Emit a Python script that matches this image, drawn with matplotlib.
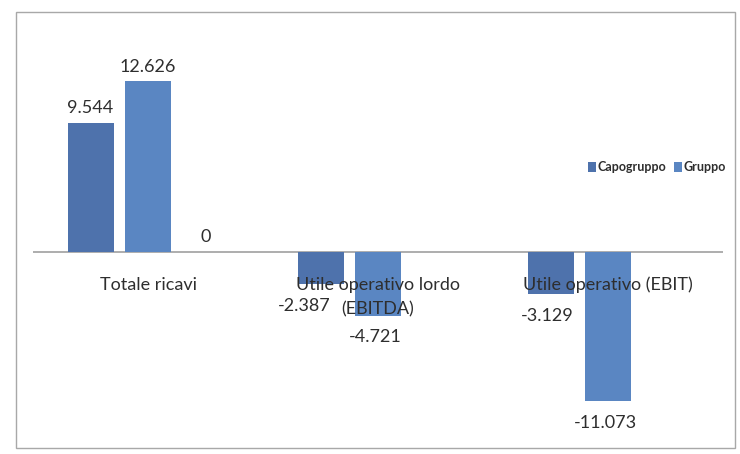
import matplotlib
matplotlib.use("Agg")
import matplotlib.pyplot as plt
from matplotlib.patches import Rectangle
import numpy as np

# Dati (migliaia di euro)
categorie = ["Totale ricavi", "Utile operativo lordo\n(EBITDA)", "Utile operativo (EBIT)"]
capogruppo = [9.544, -2.387, -3.129]
gruppo = [12.626, -4.721, -11.073]
terza_serie = [0, None, None]
serie_nomi = ["Capogruppo", "Gruppo"]

col_capo = "#4E72AC"
col_gruppo = "#5A86C2"
col_testo = "#2E2E2E"

plt.rcParams["font.family"] = ["Lato", "DejaVu Sans"]

fig = plt.figure(figsize=(7.4, 4.54), dpi=100)
fig.patch.set_facecolor("white")

# riquadro esterno del grafico
fig.patches.append(Rectangle((16 / 740, 6 / 454), 719 / 740, 436 / 454,
                             transform=fig.transFigure, fill=False,
                             edgecolor="#A8A8A8", linewidth=1.0))

ax = fig.add_axes([33 / 740, 24 / 454, 690 / 740, 390 / 454])
x = np.arange(len(categorie))
w = 0.2
off = 0.25

ax.bar(x - off, capogruppo, w, color=col_capo, label=serie_nomi[0], zorder=2)
ax.bar(x, gruppo, w, color=col_gruppo, label=serie_nomi[1], zorder=2)

FS = 13

def etichetta(xv, v, dx=-2):
    if v >= 0:
        testo = "0" if v == 0 else f"{v:.3f}"
        ax.annotate(testo, (xv, v), xytext=(0, 5), textcoords="offset points",
                    ha="center", va="bottom", fontsize=FS, color=col_testo)
    else:
        ax.annotate(f"{v:.3f}", (xv, v), xytext=(dx, -10), textcoords="offset points",
                    ha="center", va="top", fontsize=FS, color=col_testo)

for i, (xi, v) in enumerate(zip(x - off, capogruppo)):
    # l'etichetta della barra EBITDA si sposta a sinistra per non coprire il nome
    etichetta(xi, v, dx=-12 if i == 1 else -2)
for xi, v in zip(x, gruppo):
    etichetta(xi, v)
for xi, v in zip(x + off, terza_serie):
    if v is not None:
        etichetta(xi, v)

# linea dello zero
ax.axhline(0, color="#A0A0A0", linewidth=1.2, zorder=1)

# etichette delle categorie sotto l'asse, una riga alla volta
for xi, c in zip(x, categorie):
    for k, riga in enumerate(c.split("\n")):
        ax.annotate(riga, (xi, 0), xytext=(0, -18 - 17.5 * k), textcoords="offset points",
                    ha="center", va="top", fontsize=FS, color=col_testo, zorder=5)

ax.set_xlim(-0.5, 2.5)
ax.set_ylim(-13.2, 15.7)
ax.axis("off")

leg = ax.legend(loc="upper left", bbox_to_anchor=(550 / 690, (414 - 140) / 390),
                ncol=2, frameon=False, fontsize=9, handlelength=0.65, handleheight=0.9,
                handletextpad=0.1, columnspacing=0.6, borderaxespad=0)
for t in leg.get_texts():
    t.set_color(col_testo)
    t.set_fontweight("bold")

fig.savefig("out.png", dpi=100, facecolor="white")
